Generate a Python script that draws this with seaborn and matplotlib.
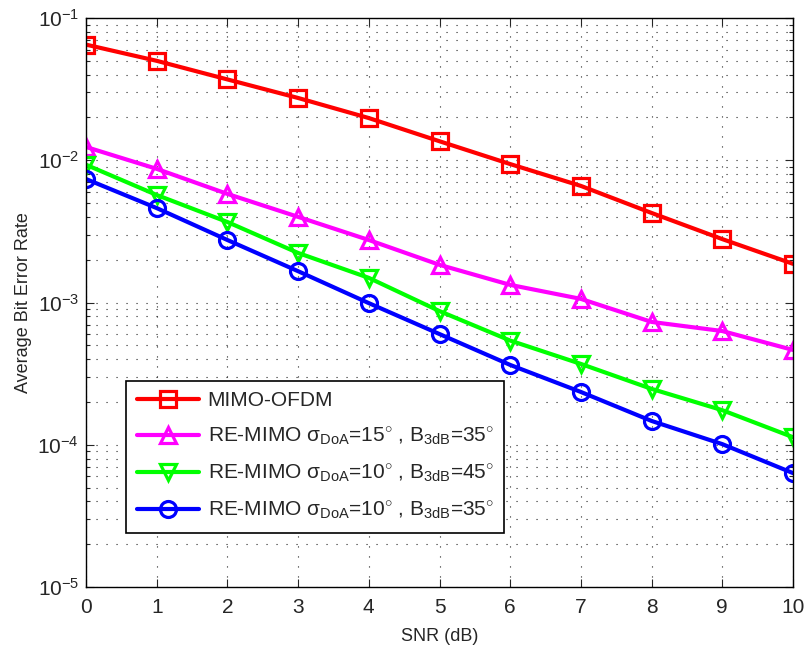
import matplotlib
matplotlib.use("Agg")
import matplotlib.pyplot as plt
import seaborn as sns
import pandas as pd
import numpy as np
from matplotlib.ticker import LogLocator

snr = [0, 1, 2, 3, 4, 5, 6, 7, 8, 9, 10]
ber_mimo_ofdm = [0.065, 0.050, 0.037, 0.0274, 0.0198, 0.0136, 0.0094, 0.0066, 0.00426, 0.00279, 0.00187]
ber_re15_35 = [0.0124, 0.0087, 0.0058, 0.0040, 0.00275, 0.00184, 0.00133, 0.00106, 0.00073, 0.00063, 0.000464]
ber_re10_45 = [0.0093, 0.0057, 0.00368, 0.00223, 0.00149, 0.00087, 0.00054, 0.00037, 0.000247, 0.000175, 0.000113]
ber_re10_35 = [0.00738, 0.00461, 0.00275, 0.00166, 0.00099, 0.0006, 0.000364, 0.000235, 0.000147, 0.000101, 0.0000632]

labels = [
    "MIMO-OFDM",
    r"RE-MIMO σ$_{\rm DoA}$=15$^{\circ}$ , B$_{\rm 3dB}$=35$^{\circ}$",
    r"RE-MIMO σ$_{\rm DoA}$=10$^{\circ}$ , B$_{\rm 3dB}$=45$^{\circ}$",
    r"RE-MIMO σ$_{\rm DoA}$=10$^{\circ}$ , B$_{\rm 3dB}$=35$^{\circ}$",
]
series = [ber_mimo_ofdm, ber_re15_35, ber_re10_45, ber_re10_35]
colors = ["#ff0000", "#ff00ff", "#00ff00", "#0000ff"]
markers = ["s", "^", "v", "o"]

sns.set_style("ticks")
plt.rcParams["font.family"] = ["Liberation Sans", "DejaVu Sans"]
plt.rcParams["mathtext.fontset"] = "custom"
plt.rcParams["mathtext.rm"] = "Liberation Sans"
plt.rcParams["mathtext.it"] = "Liberation Sans:italic"
plt.rcParams["mathtext.sf"] = "Liberation Sans"

fig = plt.figure(figsize=(8.06, 6.48), dpi=100)
ax = fig.add_axes([86/806, 1-587/648, (793-86)/806, (587-18)/648])

for lab, vals, c, m in zip(labels, series, colors, markers):
    df = pd.DataFrame({"SNR": snr, "BER": vals})
    sns.lineplot(data=df, x="SNR", y="BER", ax=ax, color=c, marker=m,
                 markersize=11.5, markerfacecolor="none", markeredgecolor=c,
                 markeredgewidth=2.3, linewidth=3, label=lab)

ax.set_yscale("log")
ax.set_ylim(1e-5, 1e-1)
ax.set_xlim(0, 10)
ax.set_xticks(range(0, 11))
ax.yaxis.set_major_locator(LogLocator(base=10, numticks=10))
ax.yaxis.set_minor_locator(LogLocator(base=10, subs=np.arange(2, 10), numticks=20))

gstyle = dict(linestyle=(0, (1, 8)), color="#222222", linewidth=0.8)
ax.grid(True, which="major", axis="both", **gstyle)
ax.grid(True, which="minor", axis="y", **gstyle)

ax.tick_params(which="both", direction="in", top=True, right=True, labelsize=15, width=0.8)
ax.tick_params(which="major", length=6, pad=5)
ax.tick_params(axis="x", which="major", pad=8)
ax.tick_params(which="minor", length=3)
for s in ax.spines.values():
    s.set_visible(True)
    s.set_linewidth(1.0)
    s.set_color("black")

ax.set_xlabel("SNR (dB)", fontsize=13, labelpad=8)
ax.set_ylabel("Average Bit Error Rate", fontsize=13, labelpad=4)

leg = ax.legend(loc="upper left", bbox_to_anchor=(0.057, 0.362), borderaxespad=0,
                fontsize=15, frameon=True, fancybox=False, edgecolor="black", framealpha=1,
                handlelength=3.0, labelspacing=0.72, borderpad=0.5, handletextpad=0.4)
leg.get_frame().set_linewidth(1.2)

fig.savefig("out.png", dpi=100)
